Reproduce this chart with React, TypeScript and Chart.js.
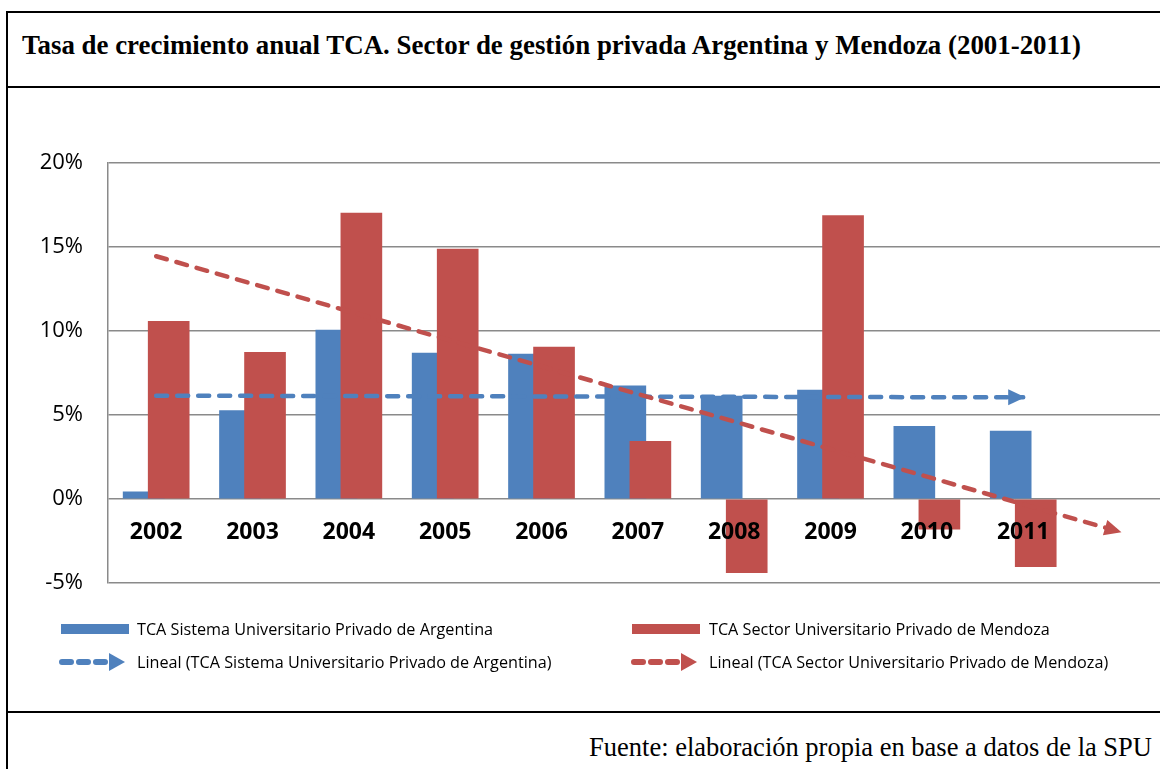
import React, { useEffect, useRef } from 'react';
import { Chart, registerables } from 'chart.js';

Chart.register(...registerables);

// ---- data ----
const years = ['2002', '2003', '2004', '2005', '2006', '2007', '2008', '2009', '2010', '2011'];
const argentina = [0.43, 5.26, 10.06, 8.69, 8.63, 6.73, 6.13, 6.49, 4.32, 4.05];
const mendoza = [10.58, 8.73, 17.02, 14.88, 9.05, 3.43, -4.38, 16.87, -1.8, -4.03];
// linear trend lines (end points, x = category index from 1)
const trendArgentinaX = [1, 10];
const trendArgentinaY = [6.15, 6.05];
const trendMendozaX = [1, 11];
const trendMendozaY = [14.45, -1.95];
const yTicks = [-5, 0, 5, 10, 15, 20];

const labelArg = 'TCA Sistema Universitario Privado de Argentina';
const labelMza = 'TCA Sector Universitario Privado de Mendoza';

const BLUE = '#4F81BD';
const RED = '#C0504D';
const GRID = '#8A8A8A';
const BAR_SHIFT = 0.13;

const arrowPlugin = {
  id: 'trendArrows',
  afterDatasetsDraw(chart: any) {
    const ctx = chart.ctx;
    chart.data.datasets.forEach((ds: any, i: number) => {
      if (ds.type !== 'line') return;
      const pts = chart.getDatasetMeta(i).data;
      if (pts.length < 2) return;
      const a = pts[pts.length - 2];
      const b = pts[pts.length - 1];
      const ang = Math.atan2(b.y - a.y, b.x - a.x);
      ctx.save();
      ctx.translate(b.x, b.y);
      ctx.rotate(ang);
      ctx.beginPath();
      ctx.moveTo(2, 0);
      ctx.lineTo(-15, -8);
      ctx.lineTo(-15, 8);
      ctx.closePath();
      ctx.fillStyle = ds.borderColor;
      ctx.fill();
      ctx.restore();
    });
  },
};

function DashArrow({ color }: { color: string }) {
  return (
    <svg width="72" height="22" viewBox="0 0 72 22" style={{ display: 'block' }}>
      <line x1="5" y1="11" x2="50" y2="11" stroke={color} strokeWidth="6" strokeDasharray="9 8" strokeLinecap="round" />
      <polygon points="52,2 68,11 52,20" fill={color} />
    </svg>
  );
}

export default function App() {
  const canvasRef = useRef<HTMLCanvasElement | null>(null);

  useEffect(() => {
    if (!canvasRef.current) return;
    const chart = new Chart(canvasRef.current, {
      type: 'bar',
      data: {
        datasets: [
          {
            type: 'line',
            label: 'Lineal (' + labelMza + ')',
            data: trendMendozaX.map((x, i) => ({ x, y: trendMendozaY[i] })),
            borderColor: RED,
            borderWidth: 4.5,
            borderDash: [11, 10],
            borderCapStyle: 'round',
            pointRadius: 0,
            fill: false,
            order: 0,
          } as any,
          {
            type: 'line',
            label: 'Lineal (' + labelArg + ')',
            data: trendArgentinaX.map((x, i) => ({ x, y: trendArgentinaY[i] })),
            borderColor: BLUE,
            borderWidth: 4.5,
            borderDash: [11, 10],
            borderCapStyle: 'round',
            pointRadius: 0,
            fill: false,
            order: 1,
          } as any,
          {
            type: 'bar',
            label: labelMza,
            data: mendoza.map((y, i) => ({ x: i + 1 + BAR_SHIFT, y })),
            backgroundColor: RED,
            barThickness: 41,
            grouped: false,
            order: 2,
          } as any,
          {
            type: 'bar',
            label: labelArg,
            data: argentina.map((y, i) => ({ x: i + 1 - BAR_SHIFT, y })),
            backgroundColor: BLUE,
            barThickness: 41,
            grouped: false,
            order: 3,
          } as any,
        ],
      },
      options: {
        animation: false,
        responsive: false,
        events: [],
        layout: { padding: { top: 75, bottom: 128, left: 0, right: 0 } },
        plugins: { legend: { display: false }, tooltip: { enabled: false }, title: { display: false } },
        scales: {
          x: {
            type: 'linear',
            min: 0.5,
            max: 11.42,
            offset: false,
            position: { y: 0 } as any,
            grid: { display: false, drawTicks: false },
            border: { display: false },
            afterBuildTicks: (s: any) => {
              s.ticks = years.map((_, i) => ({ value: i + 1 }));
            },
            ticks: {
              z: 1,
              autoSkip: false,
              maxRotation: 0,
              padding: 20,
              color: '#000',
              font: { family: 'Open Sans', size: 23, weight: 'bold' },
              callback: (v: any) => years[Math.round(v) - 1] ?? '',
            },
          },
          y: {
            type: 'linear',
            min: -5,
            max: 20,
            afterBuildTicks: (s: any) => {
              s.ticks = yTicks.map((v) => ({ value: v }));
            },
            afterFit: (s: any) => {
              s.width = 108;
            },
            grid: { color: GRID, lineWidth: 1.5, drawTicks: false },
            border: { display: true, color: GRID, width: 1.5 },
            ticks: {
              padding: 25,
              color: '#000',
              font: { family: 'Open Sans', size: 22 },
              callback: (v: any) => v + '%',
            },
          },
        },
      } as any,
      plugins: [arrowPlugin],
    });
    return () => chart.destroy();
  }, []);

  const legendText: React.CSSProperties = {
    position: 'absolute',
    fontFamily: 'Open Sans',
    fontSize: 16.2,
    color: '#000',
    lineHeight: '20px',
    whiteSpace: 'nowrap',
  };

  return (
    <div
      style={{
        position: 'fixed',
        left: 0,
        top: 0,
        width: 1160,
        height: 769,
        overflow: 'hidden',
        background: '#fff',
      }}
    >
      <div
        style={{
          position: 'absolute',
          left: 6,
          top: 11,
          width: 1300,
          height: 900,
          borderTop: '2px solid #000',
          borderLeft: '2px solid #000',
        }}
      />
      <div style={{ position: 'absolute', left: 6, top: 86, width: 1300, height: 2, background: '#000' }} />
      <div style={{ position: 'absolute', left: 6, top: 711, width: 1300, height: 2, background: '#000' }} />
      <div
        style={{
          position: 'absolute',
          left: 22,
          top: 30,
          lineHeight: '30px',
          fontFamily: '"Liberation Serif", "Times New Roman", serif',
          fontWeight: 'bold',
          fontSize: 26.9,
          whiteSpace: 'nowrap',
        }}
      >
        Tasa de crecimiento anual TCA. Sector de gestión privada Argentina y Mendoza (2001-2011)
      </div>
      <canvas
        ref={canvasRef}
        width={1160}
        height={623}
        style={{ position: 'absolute', left: 0, top: 88, width: 1160, height: 623 }}
      />
      <div style={{ position: 'absolute', left: 61, top: 624, width: 68, height: 10, background: BLUE }} />
      <div style={{ ...legendText, left: 137, top: 619 }}>{labelArg}</div>
      <div style={{ position: 'absolute', left: 632, top: 624, width: 68, height: 10, background: RED }} />
      <div style={{ ...legendText, left: 709, top: 619 }}>{labelMza}</div>
      <div style={{ position: 'absolute', left: 57, top: 651 }}>
        <DashArrow color={BLUE} />
      </div>
      <div style={{ ...legendText, left: 137, top: 652 }}>{'Lineal (' + labelArg + ')'}</div>
      <div style={{ position: 'absolute', left: 629, top: 651 }}>
        <DashArrow color={RED} />
      </div>
      <div style={{ ...legendText, left: 709, top: 652 }}>{'Lineal (' + labelMza + ')'}</div>
      <div
        style={{
          position: 'absolute',
          right: 8,
          top: 732,
          lineHeight: '30px',
          fontFamily: '"Liberation Serif", "Times New Roman", serif',
          fontSize: 26.5,
          whiteSpace: 'nowrap',
        }}
      >
        Fuente: elaboración propia en base a datos de la SPU
      </div>
    </div>
  );
}
